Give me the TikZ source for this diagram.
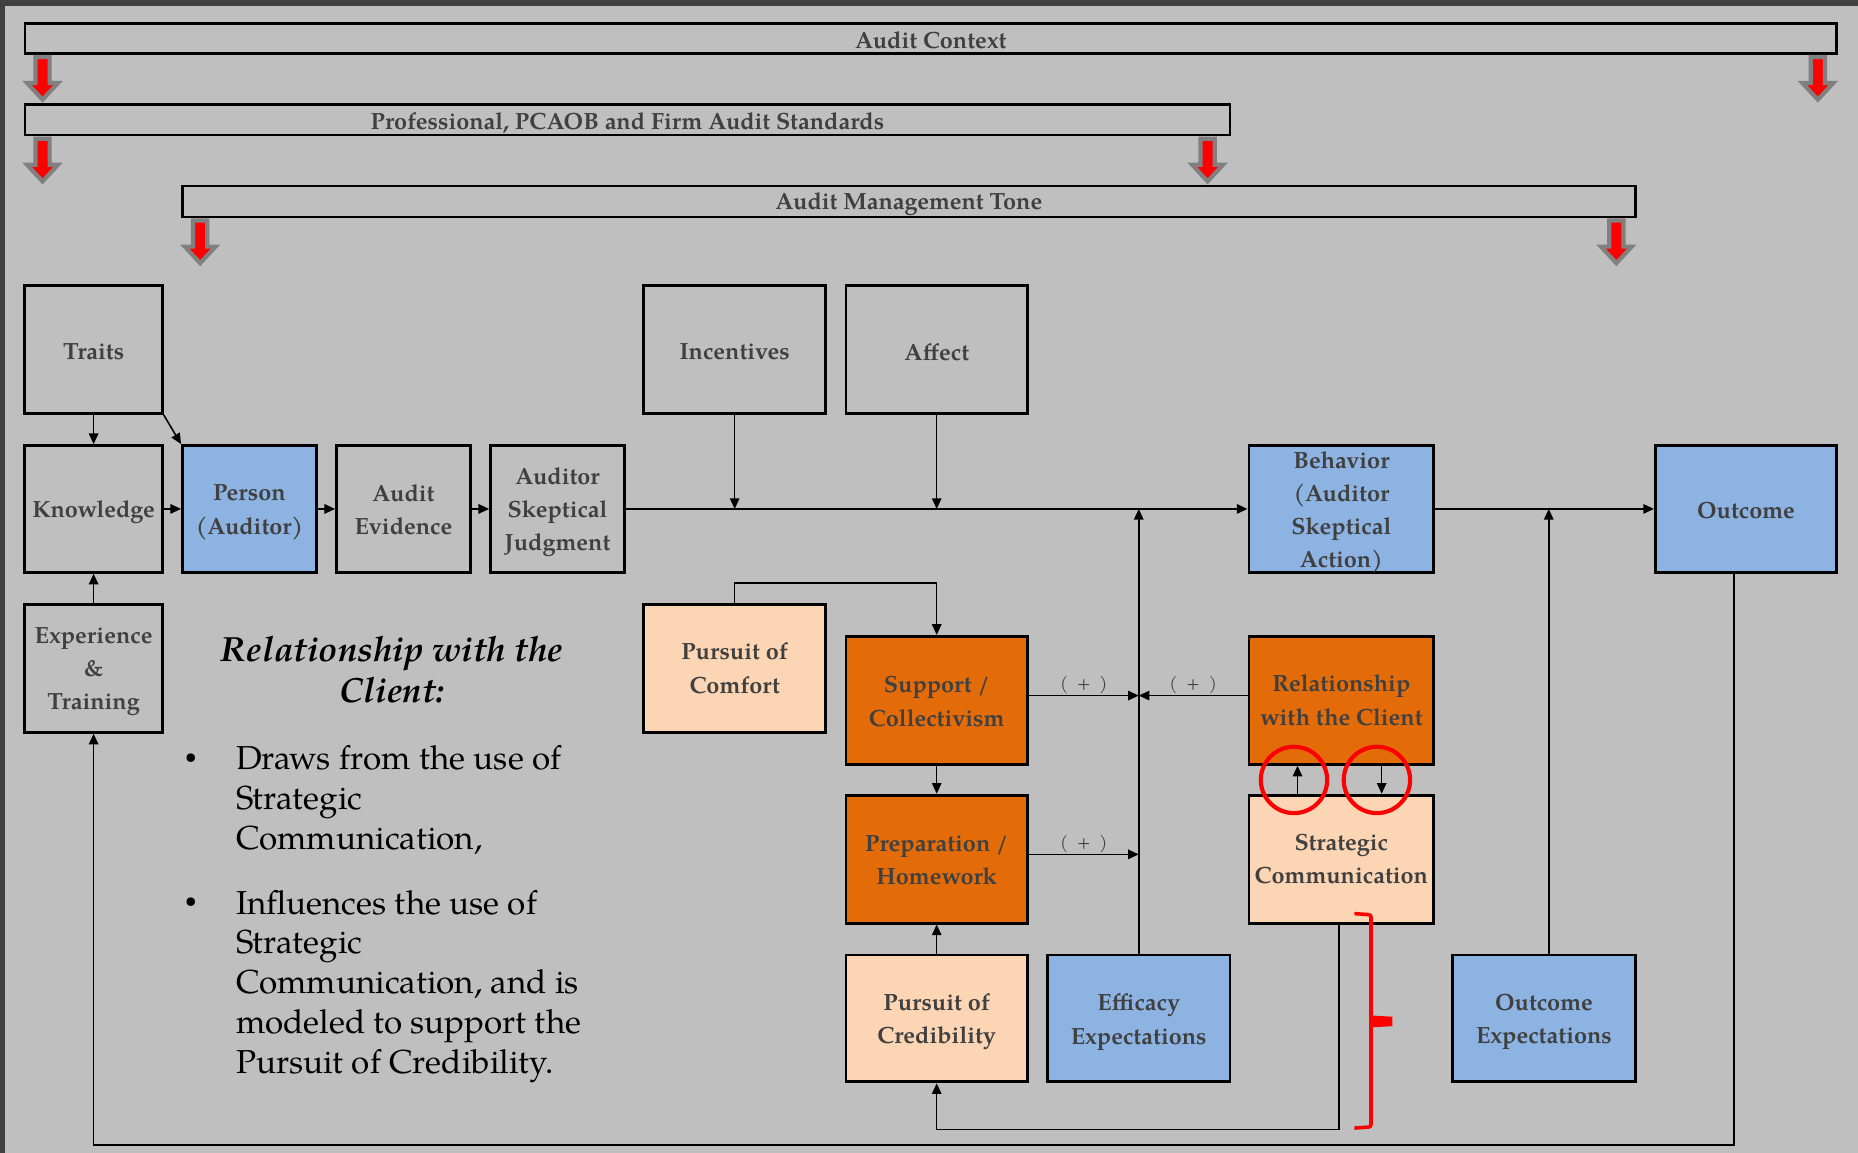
\documentclass[tikz,border=0pt]{standalone}
\usepackage{fontspec}
\setmainfont{texgyrepagella}[Extension=.otf,UprightFont=*-regular,BoldFont=*-bold,ItalicFont=*-italic,BoldItalicFont=*-bolditalic]
\usetikzlibrary{arrows.meta,calc}

\definecolor{bggray}{HTML}{BFBFBF}
\definecolor{framegray}{HTML}{404040}
\definecolor{txtgray}{HTML}{404040}
\definecolor{bluebox}{HTML}{8DB3E2}
\definecolor{orangebox}{HTML}{E36C09}
\definecolor{peachbox}{HTML}{FCD5B4}
\definecolor{arrgray}{HTML}{808080}

\newcommand\boxfont{\fontsize{19.8}{28}\selectfont\bfseries}
\newcommand\bodyfont{\fontsize{28}{33.5}\selectfont}
\newcommand\headfont{\fontsize{29.5}{35}\selectfont\bfseries\itshape}
\newcommand\plusfont{\fontsize{15}{17}\selectfont}
\newcommand\bulletfont{\fontsize{18}{20}\selectfont}

\tikzset{
  box/.style={draw=black, line width=2.4pt, fill=bggray, inner sep=0pt},
  lbl/.style={text=txtgray, font=\boxfont, align=center, inner sep=0pt},
  sz/.style 2 args={minimum width=#1pt, minimum height=#2pt},
  banner/.style={draw=black, line width=2.2pt, inner sep=0pt},
  conn/.style={line width=1.3pt, -{Triangle[length=9pt,width=8pt]}},
  plus/.style={font=\plusfont, text=txtgray, inner sep=1pt, above},
  redarr/.pic={
    \draw[arrgray, fill=red, line width=3.5pt, line join=miter]
      (-6,0) -- (6,0) -- (6,22) -- (13,22) -- (0,36) -- (-13,22) -- (-6,22) -- cycle;
  }
}

% a framed box with its label set [#1] points below the centre
\newcommand\bx[6][3]{%
  \node[box, #4, fill=#5] (#2) at #3 {};
  \node[lbl] (#2-t) at ($(#2.center)+(0,#1)$) {#6};}

\begin{document}
\begin{tikzpicture}[x=1pt,y=-1pt]
% canvas
\useasboundingbox (0,0) rectangle (1568,973);
\fill[bggray] (0,0) rectangle (1568,973);
\fill[framegray] (0,0) rectangle (1568,5);
\fill[framegray] (0,0) rectangle (4,973);

% framing context banners
\node[banner, sz={1529}{25}] (ctx) at (785.5,32.5) {};
\node[lbl] (ctx-t) at ($(ctx.center)+(0,1.5)$) {Audit Context};
\node[banner, sz={1017}{26}] (prof) at (529.5,101) {};
\node[lbl] (prof-t) at ($(prof.center)+(0,2.5)$) {Professional, PCAOB and Firm Audit Standards};
\node[banner, sz={1226}{26}] (tone) at (767,170) {};
\node[lbl] (tone-t) at ($(tone.center)+(0,2.5)$) {Audit Management Tone};

\pic at ($(ctx.south west)+(16,2)$) {redarr};
\pic at ($(ctx.south east)+(-17,2)$) {redarr};
\pic at ($(prof.south west)+(16,2)$) {redarr};
\pic at ($(prof.south east)+(-20,2)$) {redarr};
\pic at ($(tone.south west)+(16,2)$) {redarr};
\pic at ($(tone.south east)+(-17,2)$) {redarr};

% model boxes
\bx[2]{traits}{(79,295)}{sz={116}{108}}{bggray}{Traits}
\bx{know}{(79,429.5)}{sz={116}{107}}{bggray}{Knowledge}
\bx{person}{(210.5,429.5)}{sz={113}{107}}{bluebox}{Person\\(Auditor)}
\bx[1]{evid}{(340.5,429.5)}{sz={113}{107}}{bggray}{Audit\\Evidence}
\bx{asj}{(470.5,429.5)}{sz={113}{107}}{bggray}{Auditor\\Skeptical\\Judgment}
\bx[2]{inc}{(620,295)}{sz={154}{108}}{bggray}{Incentives}
\bx[2]{aff}{(790.5,295)}{sz={153}{108}}{bggray}{Affect}
\bx{behav}{(1132,429.5)}{sz={156}{107}}{bluebox}{Behavior\\(Auditor\\Skeptical\\Action)}
\bx[1]{out}{(1473.5,429.5)}{sz={153}{107}}{bluebox}{Outcome}
\bx{exp}{(79,564)}{sz={116}{108}}{bggray}{Experience\\\&\\Training}
\bx[0]{com}{(620,564)}{sz={154}{108}}{peachbox}{Pursuit of\\Comfort}
\bx[1]{sup}{(790.5,591)}{sz={153}{108}}{orangebox}{Support /\\Collectivism}
\bx[0]{rel}{(1132,591)}{sz={156}{108}}{orangebox}{Relationship\\with the Client}
\bx[1]{prep}{(790.5,725)}{sz={153}{108}}{orangebox}{Preparation /\\Homework}
\bx[0]{strat}{(1132,725)}{sz={156}{108}}{peachbox}{Strategic\\Communication}
\bx{cred}{(790.5,859.5)}{sz={153}{107}}{peachbox}{Pursuit of\\Credibility}
\bx{eff}{(961,859.5)}{sz={154}{107}}{bluebox}{Efficacy\\Expectations}
\bx{oexp}{(1303,859.5)}{sz={154}{107}}{bluebox}{Outcome\\Expectations}

% main causal chain
\draw[conn] (traits.south) -- (know.north);
\draw[conn] (traits.south east) -- (person.north west);
\draw[conn] (know.east) -- (person.west);
\draw[conn] (person.east) -- (evid.west);
\draw[conn] (evid.east) -- (asj.west);
\draw[conn] (asj.east) -- (behav.west);
\draw[conn] (inc.south) -- (inc.south |- asj.east);
\draw[conn] (aff.south) -- (aff.south |- asj.east);
\draw[conn] (eff.north) -- (eff.north |- behav.west);
\draw[conn] (behav.east) -- (out.west);
\coordinate (oe) at ($(oexp.north)+(4,0)$);
\draw[conn] (oe) -- (oe |- behav.east);

% client relationship factors
\coordinate (jA) at ($(eff.north |- sup.east)+(0,-4)$);
\coordinate (jB) at ($(eff.north |- prep.east)+(0,-4)$);
\draw[conn] ($(sup.east)+(0,-4)$) -- (jA) node[midway, plus] {(\enspace+\enspace)};
\draw[conn] ($(rel.west)+(0,-4)$) -- (jA) node[midway, plus] {(\enspace+\enspace)};
\draw[conn] ($(prep.east)+(0,-4)$) -- (jB) node[midway, plus] {(\enspace+\enspace)};
\draw[conn] (com.north) -- ++(0,-17) -| (sup.north);
\draw[conn] (sup.south) -- (prep.north);
\draw[conn] (cred.north) -- (prep.south);
\draw[conn] ($(strat.south)+(-2,0)$) -- ++(0,173) -| (cred.south);
\draw[conn] ($(strat.north)+(-37,0)$) -- ($(rel.south)+(-37,0)$);
\draw[conn] ($(rel.south)+(34,0)$) -- ($(strat.north)+(34,0)$);

% feedback loop
\coordinate (ob) at ($(out.south)+(-10,0)$);
\draw[conn] (ob) -- ++(0,482) -| (exp.south);
\draw[conn] (exp.north) -- (know.south);

% red highlights
\draw[red, line width=3.5pt] ($(rel.south)+(-40,12)$) circle[radius=28pt];
\draw[red, line width=3.5pt] ($(rel.south)+(30,12)$) circle[radius=28pt];
\draw[red, line width=3pt, rounded corners=2pt] (1143,771) -- (1157,772) -- (1157,951) -- (1143,952);
\fill[red] (1157,857) -- (1175,858) -- (1175,866) -- (1157,867) -- cycle;

% explanatory text
\node[font=\headfont, align=center, text=black] (head) at (331,565) {Relationship with the\\Client:};
\node[font=\bulletfont, text=black] (bul1) at (161,640) {\textbullet};
\node[font=\bodyfont, text=black, anchor=north west, align=left, inner sep=0pt] (txt1) at (199,629)
  {Draws from the use of\\Strategic\\Communication,};
\node[font=\bulletfont, text=black] (bul2) at (161,762) {\textbullet};
\node[font=\bodyfont, text=black, anchor=north west, align=left, inner sep=0pt] (txt2) at (199,751)
  {Influences the use of\\Strategic\\Communication, and is\\modeled to support the\\Pursuit of Credibility.};
\end{tikzpicture}
\end{document}
